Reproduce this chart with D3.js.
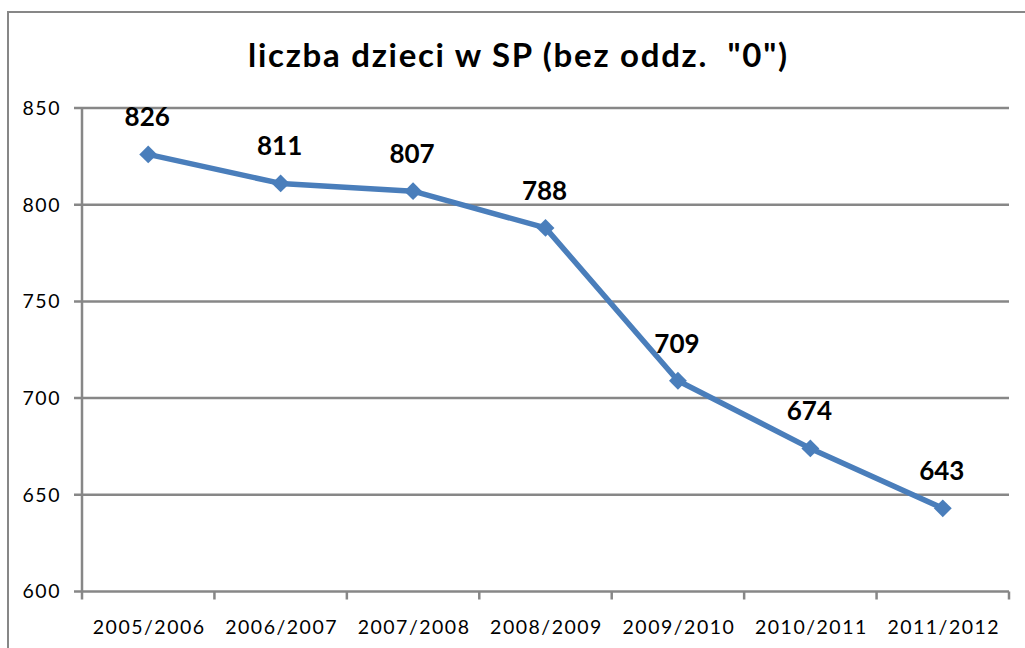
<!DOCTYPE html>
<html><head><meta charset="utf-8">
<script src="https://cdn.jsdelivr.net/npm/d3@7"></script>
<style>body{margin:0;background:#fff;} svg{display:block;}</style>
</head><body>
<script>
const categories = ["2005/2006","2006/2007","2007/2008","2008/2009","2009/2010","2010/2011","2011/2012"];
const values = [826, 811, 807, 788, 709, 674, 643];
const yTicks = [600, 650, 700, 750, 800, 850];
const title = 'liczba dzieci w SP (bez oddz.  "0")';

(function () {
const W = 1025, H = 648;
const svg = d3.select("body").append("svg").attr("width", W).attr("height", H);
const font = "Lato, 'Open Sans', sans-serif";
const grid = "#878787";

svg.append("rect").attr("x", 8).attr("y", 12).attr("width", W + 20).attr("height", H + 20)
  .attr("fill", "#fff").attr("stroke", grid).attr("stroke-width", 2);

const pl = 82, pr = 1009, pt = 108, pb = 591.5;
const x = d3.scaleBand().domain(categories).range([pl, pr]).padding(0);
const y = d3.scaleLinear().domain([600, 850]).range([pb, pt]);

svg.append("g").selectAll("line").data(yTicks).join("line")
  .attr("x1", pl - 8).attr("x2", pr)
  .attr("y1", d => y(d)).attr("y2", d => y(d))
  .attr("stroke", grid).attr("stroke-width", 2.5);

svg.append("line").attr("x1", pl).attr("x2", pl).attr("y1", pt).attr("y2", pb)
  .attr("stroke", grid).attr("stroke-width", 2.5);

svg.append("g").selectAll("text").data(yTicks).join("text")
  .attr("x", pl - 21).attr("y", d => y(d)).attr("dy", "0.35em")
  .attr("text-anchor", "end").attr("font-family", font).attr("font-size", 19.5)
  .attr("letter-spacing", 1.5)
  .text(d => d);

const bounds = categories.map(c => x(c)).concat([pr]);
svg.append("g").selectAll("line").data(bounds).join("line")
  .attr("x1", d => d).attr("x2", d => d).attr("y1", pb).attr("y2", pb + 8)
  .attr("stroke", grid).attr("stroke-width", 2.5);

svg.append("g").selectAll("text").data(categories).join("text")
  .attr("x", d => x(d) + x.bandwidth() / 2 + 1).attr("y", 634)
  .attr("text-anchor", "middle").attr("font-family", font).attr("font-size", 19.5)
  .attr("letter-spacing", 1.5)
  .text(d => d);

const pts = categories.map((c, i) => ({c, v: values[i]}));
const cx = d => x(d.c) + x.bandwidth() / 2;
const line = d3.line().x(cx).y(d => y(d.v));
svg.append("path").datum(pts).attr("d", line).attr("fill", "none")
  .attr("stroke", "#4a7ebb").attr("stroke-width", 5.5).attr("stroke-linejoin", "round");

svg.append("g").selectAll("path").data(pts).join("path")
  .attr("d", d3.symbol(d3.symbolSquare, 160))
  .attr("transform", d => `translate(${cx(d)},${y(d.v)}) rotate(45)`)
  .attr("fill", "#4a7ebb");

svg.append("g").selectAll("text").data(pts).join("text")
  .attr("x", d => cx(d) - 1).attr("y", d => y(d.v) - 28)
  .attr("text-anchor", "middle").attr("font-family", font).attr("font-size", 26).attr("font-weight", "bold")
  .text(d => d.v);

svg.append("text").attr("x", 248).attr("y", 67).attr("text-anchor", "start")
  .attr("font-family", font).attr("font-size", 33).attr("font-weight", "bold")
  .attr("textLength", 539).attr("lengthAdjust", "spacing")
  .style("white-space", "pre")
  .text(title);
})();
</script>
</body></html>
